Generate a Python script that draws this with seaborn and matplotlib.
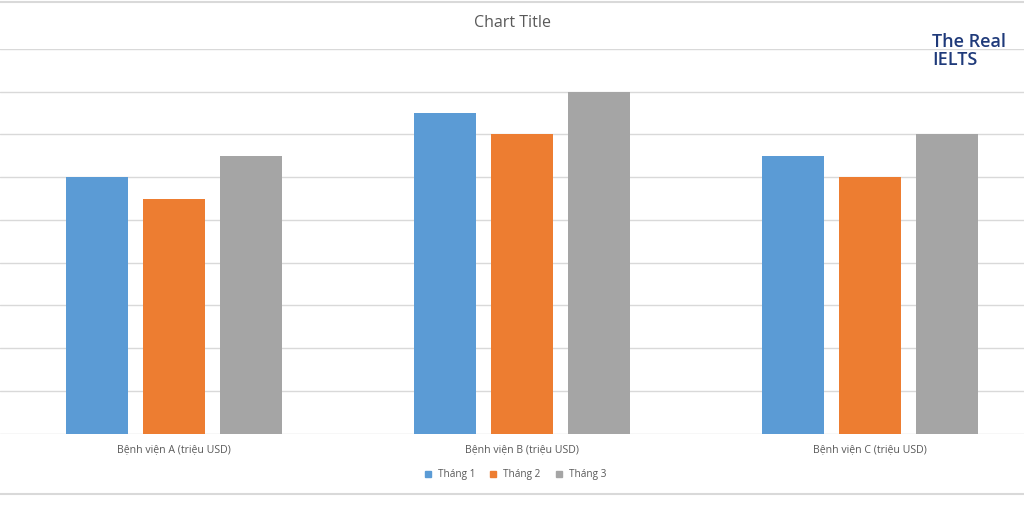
import matplotlib
matplotlib.use("Agg")
import matplotlib.pyplot as plt
import seaborn as sns
import pandas as pd
from matplotlib.lines import Line2D

categories = ["Bệnh viện A (triệu USD)", "Bệnh viện B (triệu USD)", "Bệnh viện C (triệu USD)"]
series_names = ["Tháng 1", "Tháng 2", "Tháng 3"]
thang1 = [60, 75, 65]
thang2 = [55, 70, 60]
thang3 = [65, 80, 70]
colors = ["#5B9BD5", "#ED7D31", "#A5A5A5"]

rows = []
for name, vals in zip(series_names, [thang1, thang2, thang3]):
    for c, v in zip(categories, vals):
        rows.append({"cat": c, "series": name, "value": v})
df = pd.DataFrame(rows)

sns.set_theme(style="white")
plt.rcParams['font.family'] = ['Open Sans', 'DejaVu Sans']

fig = plt.figure(figsize=(10.24, 5.12), dpi=100)
ax = fig.add_axes([0.0, 0.1533, 1.0, 0.751])

sns.barplot(data=df, x="cat", y="value", hue="series", palette=colors,
            width=0.664, gap=0.2, ax=ax, legend=False, saturation=1, linewidth=0)

ax.set_xlim(-0.5, 2.443)
ax.set_ylim(0, 90)
ax.set_yticks(range(0, 91, 10))
ax.yaxis.grid(True, color="#D9D9D9", linewidth=1)
ax.set_axisbelow(True)
ax.tick_params(axis="y", left=False, labelleft=False)
ax.tick_params(axis="x", bottom=False, labelsize=7.6, labelcolor="#595959", pad=2)
for s in ax.spines.values():
    s.set_visible(False)
ax.set_xlabel("")
ax.set_ylabel("")

# Title
fig.text(0.5, 1 - 23 / 512, "Chart Title", ha="center", va="center", fontsize=11.5, color="#595959")

# Legend
handles = [Line2D([0], [0], marker="s", linestyle="", markersize=5,
                  markerfacecolor=c, markeredgecolor=c) for c in colors]
fig.legend(handles, series_names, loc="center", bbox_to_anchor=(0.5, 1 - 475 / 512),
           ncol=3, frameon=False, fontsize=7.2, handletextpad=0.0, columnspacing=0.8,
           labelcolor="#595959")

# Chart border lines
fig.add_artist(Line2D([0, 1], [1 - 1.5 / 512, 1 - 1.5 / 512], color="#D9D9D9", linewidth=1.5, transform=fig.transFigure))
fig.add_artist(Line2D([0, 1], [1 - 494 / 512, 1 - 494 / 512], color="#D9D9D9", linewidth=1.5, transform=fig.transFigure))

# Logo text
fig.text(932 / 1024, 1 - 51 / 512, "The Real\nIELTS", ha="left", va="center", fontsize=13,
         color="#1F3A7A", fontweight="semibold", linespacing=1.05)

fig.savefig("out.png", dpi=100)
